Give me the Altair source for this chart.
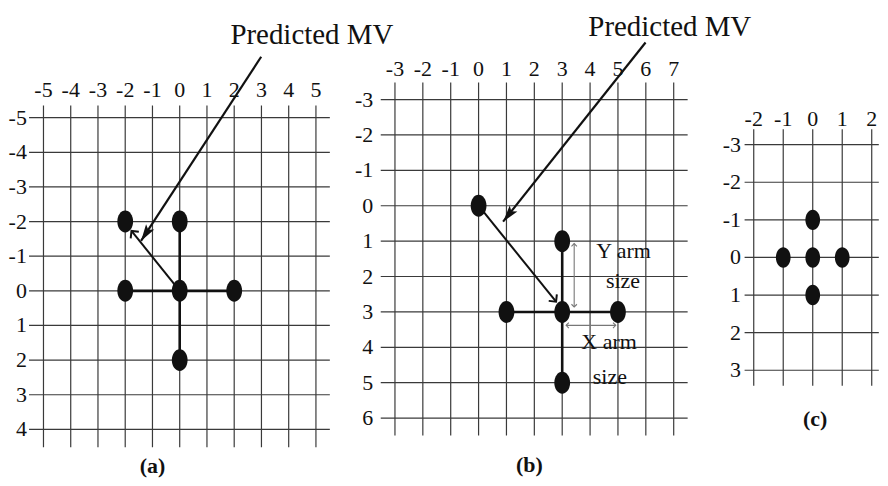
import math
import altair as alt
import pandas as pd

FONT = "Liberation Serif"
INK = "#111111"
GRID = "#3a3a3a"
ARM = "#777777"

# ---------------- data ----------------
# panel (a)
a_xticks = [-5, -4, -3, -2, -1, 0, 1, 2, 3, 4, 5]
a_yticks = [-5, -4, -3, -2, -1, 0, 1, 2, 3, 4]
a_dots_x = [-2, 0, -2, 0, 2, 0]
a_dots_y = [-2, -2, 0, 0, 0, 2]
a_cross = [(-2, 0, 2, 0), (0, -2, 0, 2)]
a_pred_arrow = [(2.99, -6.76, -1.42, -1.44)]
a_mv_arrow = [(0, 0, -1.77, -1.73)]
a_texts = [("Predicted MV", 4.85, -7.14)]
a_caption = ("(a)", -1.0, 5.06)

# panel (b)
b_xticks = [-3, -2, -1, 0, 1, 2, 3, 4, 5, 6, 7]
b_yticks = [-3, -2, -1, 0, 1, 2, 3, 4, 5, 6]
b_dots_x = [0, 3, 1, 3, 5, 3]
b_dots_y = [0, 1, 3, 3, 3, 5]
b_cross = [(1, 3, 5, 3), (3, 1, 3, 5)]
b_pred_arrow = [(5.99, -4.61, 0.88, 0.45)]
b_mv_arrow = [(0, 0, 2.78, 2.71)]
b_arm_arrows = [(3.43, 1.07, 3.43, 2.86), (3.14, 3.38, 4.92, 3.38)]
b_texts = [("Predicted MV", 6.86, -4.80), ("Y arm", 5.20, 1.49), ("size", 5.18, 2.32),
           ("X arm", 4.68, 4.06), ("size", 4.71, 5.05)]
b_caption = ("(b)", 1.82, 7.33)

# panel (c)
c_xticks = [-2, -1, 0, 1, 2]
c_yticks = [-3, -2, -1, 0, 1, 2, 3]
c_dots_x = [0, -1, 0, 1, 0]
c_dots_y = [-1, 0, 0, 0, 1]
c_caption = ("(c)", 0.08, 4.29)

# ---------------- layout (pixels of the page) ----------------
TOP, BOTTOM = 8, 476
PANELS = {
    "a": dict(left=8, right=345, ox=178.3, sx=27.34, oy=291.0, sy=34.75,
              vext=(-5.35, 4.52), hext=(-5.53, 5.51), xlab=-5.80, ylab=-5.61, dot=484),
    "b": dict(left=345, right=705, ox=478.2, sx=27.97, oy=205.6, sy=35.52,
              vext=(-3.48, 6.49), hext=(-3.51, 7.50), xlab=-3.85, ylab=-3.78, dot=484),
    "c": dict(left=705, right=880, ox=813.5, sx=29.6, oy=257.5, sy=37.73,
              vext=(-3.41, 3.41), hext=(-2.31, 2.24), xlab=-3.67, ylab=-2.43, dot=420),
}

ELLIPSE = "M0,-1A0.72,1,0,1,1,0,1A0.72,1,0,1,1,0,-1Z"
FAT_HEAD = "M0,0L-0.7,2.4L0,1.9L0.7,2.4Z"
OPEN_HEAD = "M-1,1L0,0L1,1"


def seg_df(segs):
    return pd.DataFrame([{"x": a, "y": b, "x2": c, "y2": d} for a, b, c, d in segs])


def head_df(segs, p, both=False):
    rows = []
    for x0, y0, x1, y1 in segs:
        ends = [(x0, y0, x1, y1)]
        if both:
            ends.append((x1, y1, x0, y0))
        for a0, b0, a1, b1 in ends:
            dx = (a1 - a0) * p["sx"]
            dy = (b1 - b0) * p["sy"]
            ang = math.degrees(math.atan2(dx, -dy)) % 360
            rows.append({"x": a1, "y": b1, "ang": ang})
    return pd.DataFrame(rows)


def panel(key, xticks, yticks, dots_x, dots_y, cross=(), pred=(), mv=(), arms=(),
          texts=(), caption=None):
    p = PANELS[key]
    W = p["right"] - p["left"]
    H = BOTTOM - TOP
    xdom = [(p["left"] - p["ox"]) / p["sx"], (p["right"] - p["ox"]) / p["sx"]]
    ydom = [(TOP - p["oy"]) / p["sy"], (BOTTOM - p["oy"]) / p["sy"]]
    xs = alt.Scale(domain=xdom, nice=False, zero=False)
    ys = alt.Scale(domain=ydom, nice=False, zero=False, reverse=True)

    def X(f):
        return alt.X(f, type="quantitative", scale=xs, axis=None)

    def Y(f):
        return alt.Y(f, type="quantitative", scale=ys, axis=None)

    layers = []
    vgrid = pd.DataFrame({"x": xticks, "y": p["vext"][0], "y2": p["vext"][1]})
    hgrid = pd.DataFrame({"y": yticks, "x": p["hext"][0], "x2": p["hext"][1]})
    layers.append(alt.Chart(vgrid).mark_rule(color=GRID, strokeWidth=1.2)
                  .encode(x=X("x"), y=Y("y"), y2="y2"))
    layers.append(alt.Chart(hgrid).mark_rule(color=GRID, strokeWidth=1.2)
                  .encode(y=Y("y"), x=X("x"), x2="x2"))

    xl = pd.DataFrame({"x": xticks, "y": p["xlab"], "t": [str(v) for v in xticks]})
    yl = pd.DataFrame({"y": yticks, "x": p["ylab"], "t": [str(v) for v in yticks]})
    layers.append(alt.Chart(xl).mark_text(font=FONT, fontSize=22, color=INK,
                                          align="center", baseline="middle")
                  .encode(x=X("x"), y=Y("y"), text="t:N"))
    layers.append(alt.Chart(yl).mark_text(font=FONT, fontSize=22, color=INK,
                                          align="right", baseline="middle")
                  .encode(x=X("x"), y=Y("y"), text="t:N"))

    if cross:
        layers.append(alt.Chart(seg_df(cross)).mark_rule(color=INK, strokeWidth=2.6)
                      .encode(x=X("x"), y=Y("y"), x2="x2", y2="y2"))
    if arms:
        layers.append(alt.Chart(seg_df(arms)).mark_rule(color=ARM, strokeWidth=1.1)
                      .encode(x=X("x"), y=Y("y"), x2="x2", y2="y2"))
        layers.append(alt.Chart(head_df(arms, p, both=True))
                      .mark_point(shape=OPEN_HEAD, size=30, filled=False, color=ARM,
                                  strokeWidth=1.1, opacity=1)
                      .encode(x=X("x"), y=Y("y"), angle=alt.Angle("ang:Q", scale=None)))
    if mv:
        layers.append(alt.Chart(seg_df(mv)).mark_rule(color=INK, strokeWidth=2)
                      .encode(x=X("x"), y=Y("y"), x2="x2", y2="y2"))

    dots = pd.DataFrame({"x": dots_x, "y": dots_y})
    layers.append(alt.Chart(dots).mark_point(shape=ELLIPSE, size=p["dot"], filled=True,
                                             color=INK, opacity=1)
                  .encode(x=X("x"), y=Y("y")))

    if mv:
        layers.append(alt.Chart(head_df(mv, p))
                      .mark_point(shape=OPEN_HEAD, size=110, filled=False, color=INK,
                                  strokeWidth=2, opacity=1)
                      .encode(x=X("x"), y=Y("y"), angle=alt.Angle("ang:Q", scale=None)))
    if pred:
        layers.append(alt.Chart(seg_df(pred)).mark_rule(color=INK, strokeWidth=2.2)
                      .encode(x=X("x"), y=Y("y"), x2="x2", y2="y2"))
        layers.append(alt.Chart(head_df(pred, p))
                      .mark_point(shape=FAT_HEAD, size=196, filled=True, color=INK, opacity=1)
                      .encode(x=X("x"), y=Y("y"), angle=alt.Angle("ang:Q", scale=None)))

    if texts:
        big = [t for t in texts if t[0] == "Predicted MV"]
        small = [t for t in texts if t[0] != "Predicted MV"]
        if big:
            df = pd.DataFrame([{"t": t, "x": x, "y": y} for t, x, y in big])
            layers.append(alt.Chart(df).mark_text(font=FONT, fontSize=29, color=INK,
                                                  align="center", baseline="alphabetic")
                          .encode(x=X("x"), y=Y("y"), text="t:N"))
        if small:
            df = pd.DataFrame([{"t": t, "x": x, "y": y} for t, x, y in small])
            layers.append(alt.Chart(df).mark_text(font=FONT, fontSize=22, color=INK,
                                                  align="center", baseline="alphabetic")
                          .encode(x=X("x"), y=Y("y"), text="t:N"))
    if caption:
        df = pd.DataFrame([{"t": caption[0], "x": caption[1], "y": caption[2]}])
        layers.append(alt.Chart(df).mark_text(font=FONT, fontSize=22, fontWeight="bold",
                                              color=INK, align="center", baseline="middle")
                      .encode(x=X("x"), y=Y("y"), text="t:N"))

    return alt.layer(*layers).properties(width=W, height=H)


pa = panel("a", a_xticks, a_yticks, a_dots_x, a_dots_y, cross=a_cross, pred=a_pred_arrow,
           mv=a_mv_arrow, texts=a_texts, caption=a_caption)
pb = panel("b", b_xticks, b_yticks, b_dots_x, b_dots_y, cross=b_cross, pred=b_pred_arrow,
           mv=b_mv_arrow, arms=b_arm_arrows, texts=b_texts, caption=b_caption)
pc = panel("c", c_xticks, c_yticks, c_dots_x, c_dots_y, caption=c_caption)

chart = (alt.hconcat(pa, pb, pc, spacing=0, bounds="flush")
         .properties(padding=0, background="white")
         .configure_view(stroke=None))

chart.save("out.html", embed_options={"renderer": "svg", "actions": False})
